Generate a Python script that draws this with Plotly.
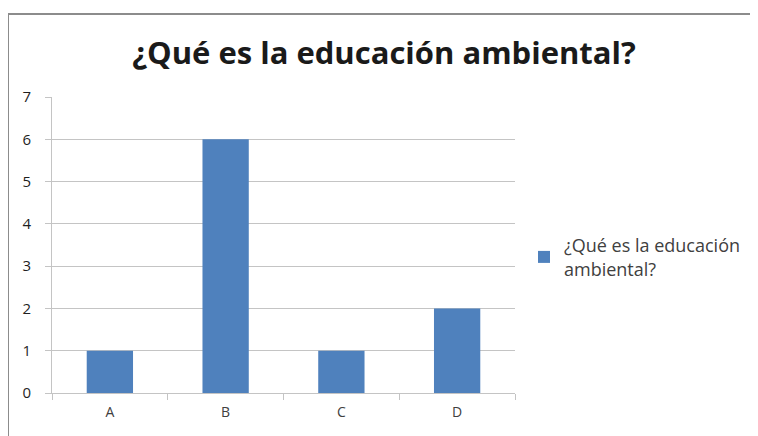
import plotly.graph_objects as go

categories = ["A", "B", "C", "D"]
values = [1, 6, 1, 2]
series_name = "¿Qué es la educación<br>ambiental?"
title_text = "¿Qué es la educación ambiental?"
y_ticks = [0, 1, 2, 3, 4, 5, 6, 7]

# page body has an 8px margin; figure coordinates = screen - 8
W, H = 750, 428
L, R, T, B = 44, 243, 89, 43
pw = W - L - R
ph = H - T - B

def px_x(p):
    return (p - L) / pw

def px_y(p):
    return (H - B - p) / ph

fig = go.Figure()
fig.add_trace(go.Bar(
    x=categories, y=values, name=series_name,
    marker=dict(color="#4f81bd", line=dict(width=0)),
    showlegend=True,
))

grid = "#c4c4c4"
fig.update_layout(
    width=W, height=H,
    margin=dict(l=L, r=R, t=T, b=B),
    paper_bgcolor="white", plot_bgcolor="white",
    bargap=0.6,
    font=dict(family="Open Sans", color="#404040"),
    title=dict(text="<b>" + title_text + "</b>", x=376 / W, xanchor="center",
               y=1 - 45 / H, yanchor="middle",
               font=dict(size=31, color="#1a1a1a", family="Open Sans")),
    xaxis=dict(showgrid=False, showline=True, linecolor=grid, linewidth=1,
               ticks="outside", tickson="boundaries", ticklen=6, tickcolor=grid,
               tickfont=dict(size=14, color="#404040"), ticklabelstandoff=6),
    yaxis=dict(range=[0, 7], tickvals=y_ticks, showgrid=True, gridcolor=grid,
               gridwidth=1, showline=True, linecolor=grid, linewidth=1,
               ticks="outside", ticklen=6, tickcolor=grid, zeroline=False,
               tickfont=dict(size=15, color="#1f1f1f"), ticklabelstandoff=11),
    legend=dict(x=px_x(516), xanchor="left", y=px_y(219), yanchor="top",
                font=dict(size=18, color="#404040"), itemwidth=30,
                bgcolor="rgba(0,0,0,0)", tracegroupgap=0),
    shapes=[dict(type="rect", xref="paper", yref="paper",
                 x0=px_x(0), x1=px_x(749), y0=px_y(440), y1=px_y(6),
                 line=dict(color="#8c8c8c", width=2), layer="below")],
)

fig.write_html("out.html")
